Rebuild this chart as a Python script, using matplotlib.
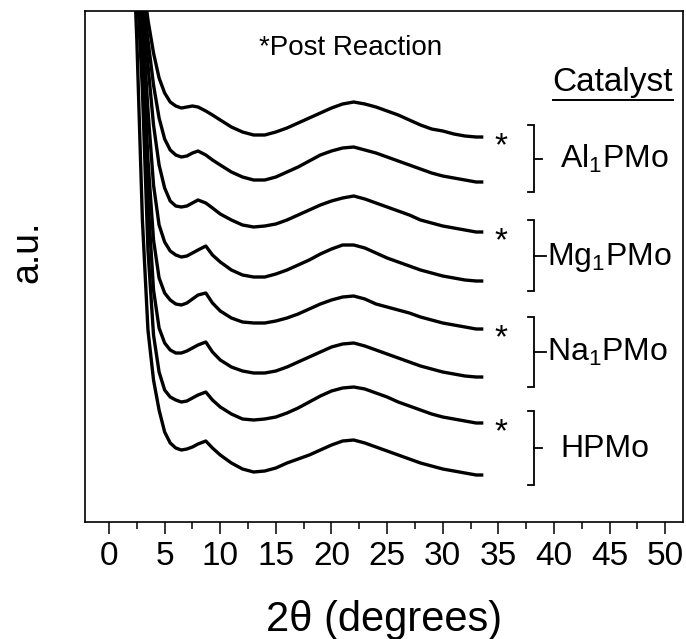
import matplotlib
matplotlib.use("Agg")
import matplotlib.pyplot as plt
from matplotlib.lines import Line2D
from matplotlib.transforms import IdentityTransform
from matplotlib.ticker import MultipleLocator

plt.rcParams['font.family'] = ['Liberation Sans', 'DejaVu Sans']
plt.rcParams['mathtext.fontset'] = 'custom'
plt.rcParams['mathtext.rm'] = 'Liberation Sans'
plt.rcParams['mathtext.default'] = 'regular'

# 2-theta grid (degrees) shared by all patterns
two_theta = [2.0, 2.5, 3.0, 3.5, 4.0, 4.5, 5.0, 5.5, 6.0, 6.5, 7.0, 7.5, 8.0, 8.7, 9.3,
             10, 11, 12, 13, 14, 15, 16, 17, 18, 19, 20, 21, 22, 23, 24, 25, 26, 27,
             28, 29, 30, 31, 32, 33, 33.5]

# stacked intensities (a.u.), top to bottom
al_post = [672, 602, 547, 502, 469, 444, 429, 420, 416, 414, 415, 416, 415, 411, 407,
           402, 395, 390, 387, 387, 390, 394, 399, 404, 409, 414, 418, 420, 418, 415,
           411, 407, 402, 397, 393, 391, 388, 386, 385, 385]
al_fresh = [672, 592, 532, 482, 437, 404, 383, 372, 367, 365, 366, 369, 371, 367, 362,
            357, 350, 345, 342, 342, 345, 350, 355, 361, 367, 371, 374, 375, 372, 369,
            365, 361, 357, 353, 349, 346, 344, 342, 340, 340]
mg_post = [672, 582, 517, 457, 397, 357, 334, 321, 316, 315, 316, 319, 322, 319, 314,
           308, 302, 297, 295, 296, 298, 302, 307, 312, 317, 321, 324, 326, 323, 319,
           315, 311, 307, 302, 299, 296, 294, 292, 290, 290]
mg_fresh = [662, 572, 502, 412, 337, 297, 280, 271, 267, 265, 266, 269, 272, 276, 267,
            260, 252, 247, 245, 245, 248, 252, 257, 262, 268, 273, 277, 277, 274, 269,
            264, 260, 256, 252, 249, 246, 244, 242, 241, 241]
na_post = [652, 562, 482, 362, 282, 244, 229, 222, 218, 217, 219, 223, 227, 229, 219,
           211, 204, 200, 199, 199, 201, 204, 208, 213, 218, 222, 225, 226, 223, 218,
           215, 212, 209, 205, 202, 199, 197, 195, 193, 193]
na_fresh = [642, 552, 462, 322, 232, 194, 179, 172, 169, 169, 171, 174, 177, 180, 170,
            162, 155, 151, 149, 149, 151, 155, 160, 165, 170, 175, 178, 179, 176, 172,
            168, 164, 160, 156, 153, 150, 148, 146, 145, 145]
h_post = [632, 542, 432, 272, 187, 150, 132, 125, 122, 120, 121, 124, 127, 130, 122,
          115, 108, 103, 102, 103, 105, 109, 114, 120, 126, 131, 134, 135, 133, 129,
          125, 120, 116, 112, 108, 105, 103, 101, 99, 99]
h_fresh = [622, 482, 302, 192, 142, 112, 90, 79, 74, 72, 73, 75, 78, 81, 74,
           67, 59, 53, 50, 51, 54, 59, 63, 67, 72, 77, 81, 82, 79, 75,
           71, 67, 63, 59, 56, 53, 51, 49, 47, 47]

catalysts = ['Al$_1$PMo', 'Mg$_1$PMo', 'Na$_1$PMo', 'HPMo']
post_curves = [al_post, mg_post, na_post, h_post]
fresh_curves = [al_fresh, mg_fresh, na_fresh, h_fresh]
label_x = [40.5, 39.4, 39.4, 40.6]

fig = plt.figure(figsize=(6.86, 6.39), dpi=100)
ax = fig.add_axes([85 / 686, 1 - 522 / 639, 598 / 686, 511 / 639])

for post, fresh in zip(post_curves, fresh_curves):
    ax.plot(two_theta, post, color='black', lw=2.4)
    ax.plot(two_theta, fresh, color='black', lw=2.4)

ax.set_xlim(-2.16, 51.6)
ax.set_ylim(0, 511)

# stars + brackets + catalyst names
bx = 38.2
for name, post, fresh, lx in zip(catalysts, post_curves, fresh_curves, label_x):
    ax.text(35.2, post[-1] - 10, '*', fontsize=24, ha='center', va='center')
    top = post[-1] + 12
    bot = fresh[-1] - 10
    mid = (top + bot) / 2
    ax.plot([bx - 0.55, bx, bx, bx - 0.55], [top, top, bot, bot], color='black', lw=1.3,
            solid_joinstyle='miter')
    ax.plot([bx, lx - 0.1 if lx < 40 else bx + 0.7], [mid, mid], color='black', lw=1.3)
    ax.text(lx, mid - 9, name, fontsize=23, ha='left', va='baseline')

ax.text(21.7, 474, '*Post Reaction', fontsize=20, ha='center', va='center')
cat = ax.text(45.3, 439, 'Catalyst', fontsize=24, ha='center', va='center')

ax.set_yticks([])
ax.xaxis.set_major_locator(MultipleLocator(5))
ax.xaxis.set_minor_locator(MultipleLocator(2.5))
ax.tick_params(axis='x', which='major', direction='out', length=8.5, width=1.1,
               labelsize=24, pad=5, top=False)
ax.tick_params(axis='x', which='minor', direction='out', length=5, width=1.1, top=False)
for s in ax.spines.values():
    s.set_linewidth(1.2)

ax.set_xlabel('2θ (degrees)', fontsize=30)
ax.xaxis.set_label_coords(0.5, (522 - 620) / 511)
ax.xaxis.label.set_va('center')
ax.set_ylabel('a.u.', fontsize=27)
ax.yaxis.set_label_coords((27 - 85) / 598, (522 - 252) / 511)
ax.yaxis.label.set_va('center')

# underline under "Catalyst"
fig.canvas.draw()
bb = cat.get_window_extent(fig.canvas.get_renderer())
fig.add_artist(Line2D([bb.x0, bb.x1], [bb.y0 - 1, bb.y0 - 1], color='black', lw=1.4,
                      transform=IdentityTransform()))

fig.savefig('out.png', dpi=100)
